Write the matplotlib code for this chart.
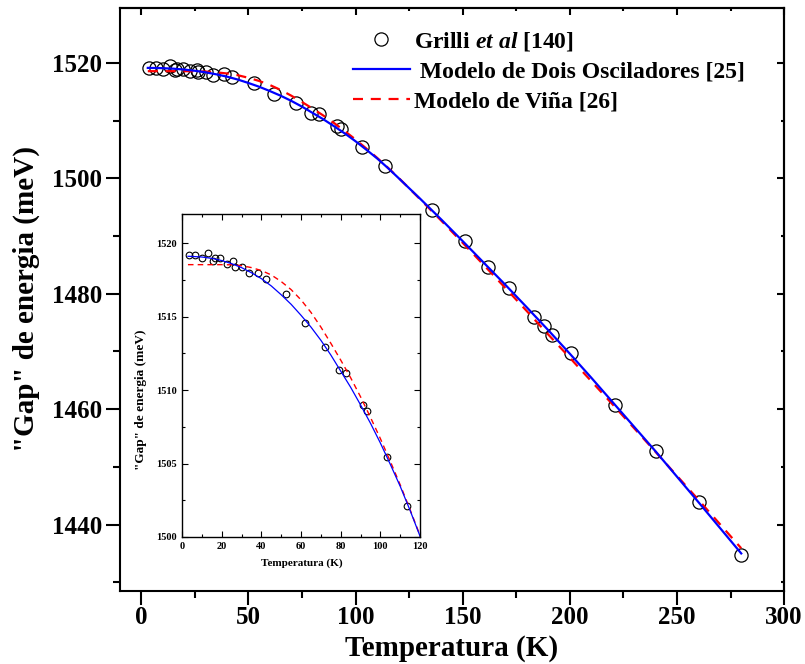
import matplotlib
matplotlib.use('Agg')
import matplotlib.pyplot as plt
from matplotlib.ticker import MultipleLocator

plt.rcParams['font.family'] = 'Liberation Serif'
plt.rcParams['font.weight'] = 'bold'
plt.rcParams['axes.labelweight'] = 'bold'
plt.rcParams['mathtext.fontset'] = 'custom'
plt.rcParams['mathtext.it'] = 'Liberation Serif:italic:bold'
plt.rcParams['mathtext.rm'] = 'Liberation Serif:bold'
plt.rcParams['mathtext.bf'] = 'Liberation Serif:bold'

# dados experimentais (Grilli et al)
T_exp = [3.4, 6.7, 10.1, 13.3, 15.8, 16.6, 19.3, 22.7, 25.8, 26.5, 30.4, 33.6,
         38.4, 42.3, 52.4, 61.9, 72.0, 79.2, 82.7, 91.3, 93.3, 103.1, 113.6,
         135.5, 151.0, 161.6, 171.5, 183.4, 187.9, 191.8, 200.7, 221.1, 240.4,
         260.2, 280.1]
E_exp = [1519.18, 1519.18, 1518.98, 1519.37, 1518.78, 1518.98, 1518.98, 1518.57,
         1518.80, 1518.39, 1518.39, 1517.96, 1517.98, 1517.57, 1516.58, 1514.58,
         1512.95, 1511.38, 1511.20, 1508.98, 1508.57, 1505.47, 1502.09,
         1494.42, 1489.06, 1484.63, 1480.99, 1475.97, 1474.46, 1472.78, 1469.66,
         1460.78, 1452.69, 1443.93, 1434.81]

# curvas dos modelos
T_fit = [3, 5, 10, 15, 20, 25, 30, 35, 40, 45, 50, 55, 60, 65, 70, 75, 80, 85,
         90, 95, 100, 105, 110, 115, 120, 130, 140, 150, 160, 170, 180, 190,
         200, 210, 220, 230, 240, 250, 260, 270, 280]
E_dois = [1519.12, 1519.11, 1519.07, 1518.98, 1518.83, 1518.62, 1518.35, 1518.00,
          1517.60, 1517.10, 1516.50, 1515.85, 1515.10, 1514.30, 1513.40, 1512.40,
          1511.30, 1510.20, 1509.00, 1507.75, 1506.40, 1504.95, 1503.45, 1501.80,
          1500.05, 1496.50, 1492.85, 1489.10, 1485.30, 1481.50, 1477.60, 1473.65,
          1469.60, 1465.45, 1461.20, 1456.95, 1452.70, 1448.30, 1443.90, 1439.45,
          1435.00]
E_vina = [1518.55, 1518.55, 1518.55, 1518.55, 1518.55, 1518.54, 1518.48, 1518.35,
          1518.15, 1517.85, 1517.40, 1516.85, 1516.15, 1515.30, 1514.30, 1513.20,
          1512.05, 1510.85, 1509.55, 1508.15, 1506.70, 1505.15, 1503.55, 1501.85,
          1500.10, 1496.40, 1492.65, 1488.80, 1484.90, 1480.95, 1476.95, 1472.90,
          1468.90, 1464.85, 1460.80, 1456.70, 1452.60, 1448.45, 1444.30, 1440.10,
          1435.90]

fig = plt.figure(figsize=(8.05, 6.64), dpi=100)
ax = fig.add_axes([0.149, 0.110, 0.825, 0.878])

ax.plot(T_exp, E_exp, 'o', mfc='none', mec='black', ms=9.5, mew=0.9,
        label='Grilli $\\mathit{et\\ al}$ [140]', zorder=2)
ax.plot(T_fit, E_dois, '-', color='blue', lw=1.6,
        label=' Modelo de Dois Osciladores [25]', zorder=4)
ax.plot(T_fit, E_vina, color='red', lw=1.6, ls=(0, (4.5, 3.5)),
        label='Modelo de Viña [26]', zorder=3)

ax.set_xlim(-10, 300)
ax.set_ylim(1428.5, 1529.5)
ax.xaxis.set_major_locator(MultipleLocator(50))
ax.xaxis.set_minor_locator(MultipleLocator(25))
ax.yaxis.set_major_locator(MultipleLocator(20))
ax.yaxis.set_minor_locator(MultipleLocator(10))
ax.tick_params(which='major', direction='out', length=10, width=1.5, labelsize=18, pad=3)
ax.tick_params(which='minor', direction='out', length=5, width=1.5)
ax.tick_params(axis='x', which='major', pad=1)
for s in ax.spines.values():
    s.set_linewidth(1.5)

# ticks para dentro no topo e na direita
secx = ax.secondary_xaxis('top')
secx.xaxis.set_major_locator(MultipleLocator(50))
secx.xaxis.set_minor_locator(MultipleLocator(25))
secx.tick_params(which='major', direction='in', length=5, width=1.5, labeltop=False)
secx.tick_params(which='minor', direction='in', length=2, width=1.5)
secy = ax.secondary_yaxis('right')
secy.yaxis.set_major_locator(MultipleLocator(20))
secy.yaxis.set_minor_locator(MultipleLocator(10))
secy.tick_params(which='major', direction='in', length=5, width=1.5, labelright=False)
secy.tick_params(which='minor', direction='in', length=2, width=1.5)
secx.spines['top'].set_linewidth(1.5)
secy.spines['right'].set_linewidth(1.5)

ax.set_xlabel('Temperatura (K)', fontsize=21)
ax.set_ylabel('"Gap" de energia (meV)', fontsize=21)
ax.xaxis.set_label_coords(0.5, -0.075)
ax.yaxis.set_label_coords(-0.12, 0.5)

ax.legend(loc='upper left', bbox_to_anchor=(0.4385, 0.9555), bbox_transform=fig.transFigure,
          frameon=False, fontsize=17, handlelength=2.4, handletextpad=0.2,
          labelspacing=0.36, borderpad=0, borderaxespad=0, numpoints=1)

# grafico interno (zoom em baixas temperaturas)
ins = fig.add_axes([0.2261, 0.1913, 0.2957, 0.4864])
ins.plot(T_exp, E_exp, 'o', mfc='none', mec='black', ms=4.8, mew=0.8)
ins.plot(T_fit, E_vina, color='red', lw=1.0, ls=(0, (4, 3)))
ins.plot(T_fit, E_dois, color='blue', lw=0.9)
ins.set_xlim(0, 120)
ins.set_ylim(1500, 1522)
ins.xaxis.set_major_locator(MultipleLocator(20))
ins.xaxis.set_minor_locator(MultipleLocator(10))
ins.yaxis.set_major_locator(MultipleLocator(5))
ins.yaxis.set_minor_locator(MultipleLocator(2.5))
ins.tick_params(which='both', direction='in', top=True, right=True, width=0.8, labelsize=7.5)
ins.tick_params(which='major', length=4)
ins.tick_params(which='minor', length=2)
for s in ins.spines.values():
    s.set_linewidth(1.0)
ins.set_xlabel('Temperatura (K)', fontsize=8)
ins.set_ylabel('"Gap" de energia (meV)', fontsize=9.5)
ins.xaxis.set_label_coords(0.505, -0.065)
ins.yaxis.set_label_coords(-0.145, 0.424)

fig.savefig('out.png', dpi=100)
